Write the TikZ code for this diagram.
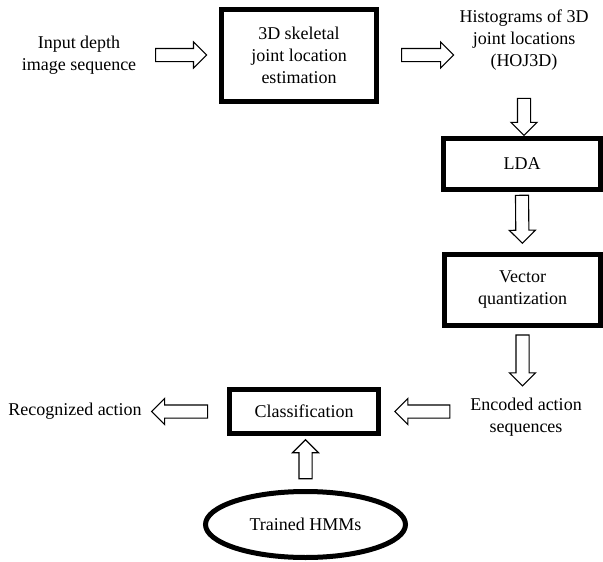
\documentclass[tikz,border=0pt]{standalone}
\usepackage{fontspec}
\setmainfont{Liberation Serif}
\usetikzlibrary{shapes.geometric, shapes.arrows}

\begin{document}
\begin{tikzpicture}[x=1pt, y=-1pt, font=\rmfamily\fontsize{18}{22}\selectfont,
    block/.style={draw, line width=5pt, align=center},
    flow/.style={single arrow, draw, line width=1.1pt, fill=white, inner xsep=0pt, inner ysep=6pt,
        single arrow head extend=6.5pt, sloped, allow upside down}]
              \useasboundingbox (0,0) rectangle (603,562);

              \node[align=center] (input) at (79,55) {Input depth\\image sequence};
              \node[block, minimum width=155pt, minimum height=92pt] (skel) at (299,55) {3D skeletal\\joint location\\estimation};
              \node[align=center] (hist) at (524,40) {Histograms of 3D\\joint locations\\(HOJ3D)};
              \node[block, minimum width=157pt, minimum height=51pt] (lda) at (522,164) {LDA};
              \node[block, minimum width=156pt, minimum height=71pt] (vq) at (522.5,290) {Vector\\quantization};
              \node[align=center] (enc) at (526,417) {Encoded action\\sequences};
              \node[block, minimum width=149pt, minimum height=44pt] (cls) at (304,411.5) {Classification};
              \node (rec) at (75,411) {Recognized action};
              \node[block, ellipse, minimum width=200pt, minimum height=66pt] (hmm) at (305.5,524.5) {Trained HMMs};

              \path (input.east) -- (skel.west) node[flow, pos=0.48, minimum height=51pt] {};
              \path (skel.east) -- (skel.east -| hist.west) node[flow, pos=0.59, minimum height=52pt] {};
              \path (hist.south) -- (hist.south |- lda.north) node[flow, pos=0.64, minimum height=37pt] {};
              \path (lda.south) -- (vq.north) node[flow, pos=0.4, minimum height=48pt] {};
              \path (vq.south) -- (vq.south |- enc.north) node[flow, pos=0.44, minimum height=51pt] {};
              \path (cls.east -| enc.west) -- (cls.east) node[flow, pos=0.48, minimum height=55pt] {};
              \path (cls.west) -- (cls.west -| rec.east) node[flow, pos=0.54, minimum height=56pt] {};
              \path (hmm.north) -- (hmm.north |- cls.south) node[flow, pos=0.5, minimum height=39pt] {};
            \end{tikzpicture}
\end{document}
